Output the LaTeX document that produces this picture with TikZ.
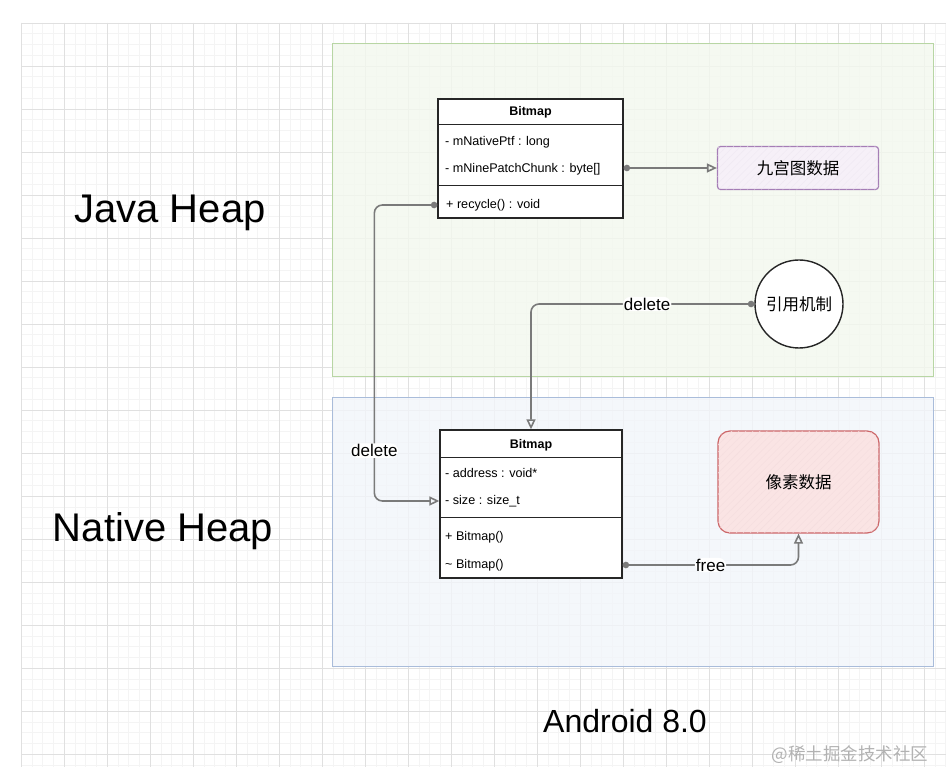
\documentclass[tikz,border=0pt]{standalone}
\usepackage{fontspec}
\setmainfont{Liberation Sans}
\newfontfamily\cjk{Noto Sans CJK SC}
\usetikzlibrary{arrows.meta,patterns.meta}
\definecolor{gridmaj}{HTML}{E0E0E0}
\definecolor{gridmin}{HTML}{F4F4F4}
\definecolor{javaline}{HTML}{B8D6A4}
\definecolor{javafill}{HTML}{F3F8EE}
\definecolor{natline}{HTML}{A9BCDA}
\definecolor{natfill}{HTML}{F2F5FA}
\definecolor{nineline}{HTML}{A57DB6}
\definecolor{ninefill}{HTML}{F6F0F8}
\definecolor{pixline}{HTML}{CC6668}
\definecolor{pixfill}{HTML}{FAE4E4}
\definecolor{linkc}{HTML}{7A7A7A}
\tikzset{
  gridminor/.style={draw=gridmin, line width=0.5pt},
  gridmajor/.style={draw=gridmaj, line width=0.8pt},
  javaheap/.style={line width=1pt, draw=javaline, fill=javafill, fill opacity=0.8},
  nativeheap/.style={line width=1pt, draw=natline, fill=natfill, fill opacity=0.8},
  heapname/.style={font=\fontsize{40}{44}\selectfont, text=black},
  umlbox/.style={draw=black!85, line width=1.3pt, fill=white, inner sep=0pt},
  umltitle/.style={font=\fontsize{12.5}{14}\selectfont\bfseries},
  umlrow/.style={anchor=west, inner sep=0pt, font=\fontsize{12.6}{14}\selectfont},
  cjkbox/.style={line width=1.2pt, inner sep=0pt, font=\cjk\fontsize{16.5}{18}\selectfont},
  ninebox/.style={cjkbox, draw=nineline, fill=ninefill, rounded corners=3pt,
    postaction={pattern={Lines[angle=45,distance=5pt,line width=0.4pt]}, pattern color=nineline!18}},
  pixbox/.style={cjkbox, draw=pixline, fill=pixfill, rounded corners=12pt,
    postaction={pattern={Lines[angle=45,distance=5pt,line width=0.4pt]}, pattern color=pixline!22}},
  refcirc/.style={cjkbox, circle, draw=black!85, line width=1.4pt, fill=white},
  link/.style={draw=linkc, line width=1.6pt, rounded corners=8pt,
    {Circle[length=6.5pt]}-{Triangle[open,length=10pt,width=9pt]}},
  lbl/.style={fill=white, inner sep=1pt, text=black, font=\fontsize{17}{19}\selectfont},
  wmark/.style={text=black!30, font=\cjk\fontsize{17.5}{19}\selectfont},
}

\begin{document}
\begin{tikzpicture}[x=1pt, y=-1pt]
\useasboundingbox (0,0) rectangle (946,767);
\fill[white] (0,0) rectangle (946,767);

% grid
\foreach \i in {0,...,86} \draw[gridminor] ({21+\i*10.75},23) -- ({21+\i*10.75},767);
\foreach \i in {0,...,69} \draw[gridminor] (21,{23+\i*10.75}) -- (946,{23+\i*10.75});
\foreach \i in {0,...,21} \draw[gridmajor] ({21+\i*43},23) -- ({21+\i*43},767);
\foreach \i in {0,...,17} \draw[gridmajor] (21,{23+\i*43}) -- (946,{23+\i*43});

% heaps
\draw[javaheap] (332,44) rectangle (933,377);
\draw[nativeheap] (332,398) rectangle (933,666);
\node[heapname] (javalbl) at (170,213) {Java Heap};
\node[heapname] (nativelbl) at (163,531) {Native Heap};
\node[heapname, font=\fontsize{32}{36}\selectfont] (verlbl) at (625,721) {Android 8.0};

% java Bitmap
\node[umlbox, minimum width=185, minimum height=119] (jclass) at (530.5,158.5) {};
\draw[umlbox] ([yshift=-26pt]jclass.north west) -- ([yshift=-26pt]jclass.north east);
\draw[umlbox] ([yshift=-87pt]jclass.north west) -- ([yshift=-87pt]jclass.north east);
\node[umltitle] (jtitle) at (530.5,112) {Bitmap};
\node[umlrow] (jptr) at (445,142) {- mNativePtf : long};
\node[umlrow] (jchunk) at (445,169) {- mNinePatchChunk : byte[]};
\node[umlrow] (jrecycle) at (446,205) {+ recycle() : void};

\node[ninebox, minimum width=161, minimum height=43] (nine) at (798,168) {九宫图数据};
\node[refcirc, minimum size=88] (ref) at (799,304) {引用机制};

% native Bitmap
\node[umlbox, minimum width=182, minimum height=148] (nclass) at (531,504) {};
\draw[umlbox] ([yshift=-28pt]nclass.north west) -- ([yshift=-28pt]nclass.north east);
\draw[umlbox] ([yshift=-88pt]nclass.north west) -- ([yshift=-88pt]nclass.north east);
\node[umltitle] (ntitle) at (531,445) {Bitmap};
\node[umlrow] (naddr) at (445,473) {- address : void*};
\node[umlrow] (nsize) at (445,501) {- size : size\_t};
\node[umlrow] (nctor) at (445,537) {+ Bitmap()};
\node[umlrow] (ndtor) at (445,565) {\textasciitilde\ Bitmap()};

\node[pixbox, minimum width=161, minimum height=102] (pix) at (798.5,482) {像素数据};

% links
\draw[link] (nine.west -| jclass.east) -- (nine.west);
\draw[link] (jclass.west |- jrecycle) -- ++(-63,0) |- node[lbl, pos=0.415] (del1) {delete} (nclass.west |- nsize);
\draw[link] (ref.west) -| node[lbl, pos=0.24] (del2) {delete} (nclass.north);
\draw[link] (nclass.east |- ndtor) -| node[lbl, pos=0.25] (freelbl) {free} (pix.south);

\node[wmark, anchor=east] (wm) at (932,755) {@稀土掘金技术社区};
\end{tikzpicture}
\end{document}
